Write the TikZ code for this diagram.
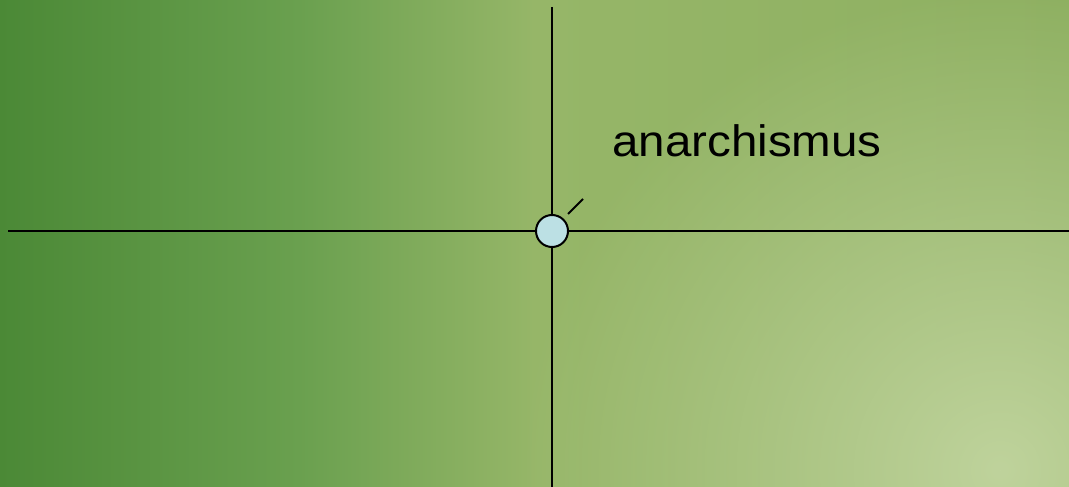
\documentclass[tikz,border=0pt]{standalone}
\usepackage{fontspec}
\setmainfont{Liberation Sans}
\usetikzlibrary{fadings}
\definecolor{bgA}{HTML}{4B8936}
\definecolor{bgB}{HTML}{6AA04F}
\definecolor{bgC}{HTML}{96B668}
\definecolor{bgD}{HTML}{8EB061}
\definecolor{spot}{HTML}{BFD39C}
\definecolor{node}{HTML}{BCE0E4}
\tikzfading[name=softspot, inner color=transparent!0, outer color=transparent!100]
\pgfdeclarehorizontalshading{bgshade}{100bp}{color(0bp)=(bgA); color(25bp)=(bgA); color(39bp)=(bgB); color(50bp)=(bgC); color(75bp)=(bgD); color(100bp)=(bgD)}
\tikzset{
  axis/.style={draw=black, line width=2pt},
  dot/.style={circle, draw=black, line width=2pt, fill=node, minimum size=32pt, inner sep=0pt},
  lbl/.style={font=\fontsize{44}{44}\selectfont, text=black, inner sep=0pt, anchor=base west, xscale=1.08}
}
\begin{document}
\begin{tikzpicture}[x=1pt, y=-1pt]
\useasboundingbox (0,0) rectangle (1069,487);
\shade[shading=bgshade] (0,0) rectangle (1069,487);
\begin{scope}
\clip (0,0) rectangle (1069,487);
\fill[spot, path fading=softspot] (1000,470) circle (480);
\end{scope}
\coordinate (ltop) at (552,7);
\coordinate (lbot) at (552,487);
\coordinate (lleft) at (8,231);
\coordinate (lright) at (1069,231);
\draw[axis] (ltop) -- (lbot);
\draw[axis] (lleft) -- (lright);
\node[dot] (a) at (552,231) {};
\coordinate (t1) at (568,214);
\coordinate (t2) at (583,199);
\draw[axis] (t1) -- (t2);
\node[lbl] (lab) at (612,157) {anarchismus};
\end{tikzpicture}
\end{document}
